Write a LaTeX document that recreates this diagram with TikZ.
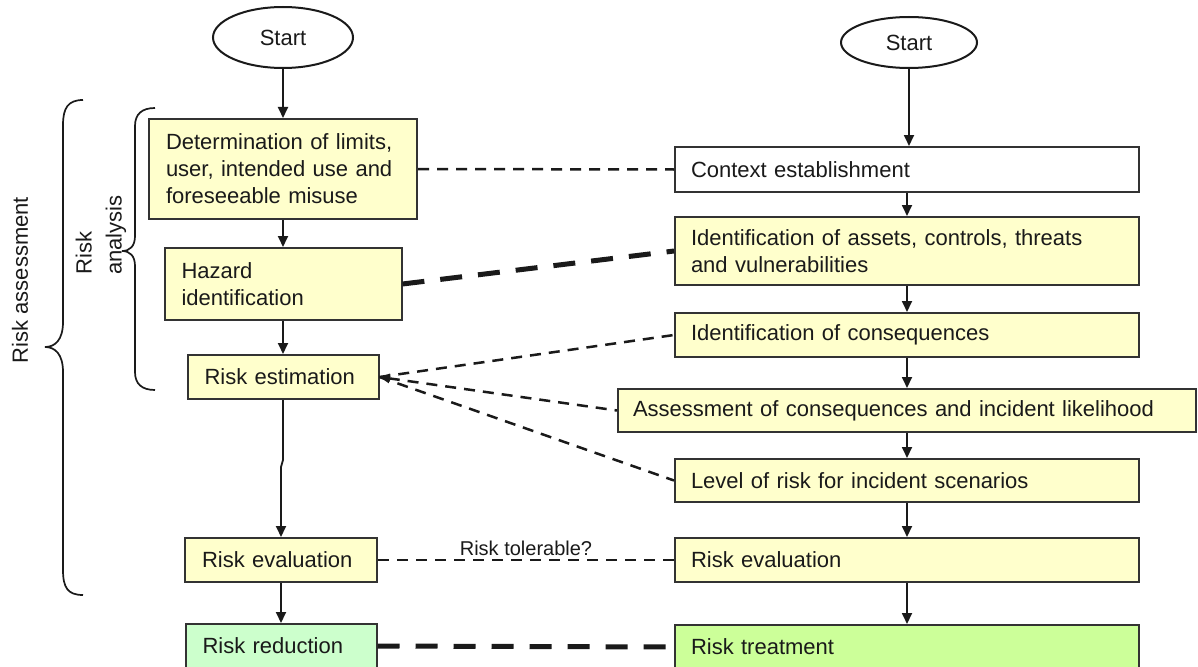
\documentclass[tikz,border=0pt]{standalone}
\usepackage{fontspec}
\setmainfont{Liberation Sans}
\usetikzlibrary{arrows.meta,shapes.geometric}
\definecolor{boxyellow}{HTML}{FFFFCC}
\definecolor{boxmint}{HTML}{CCFFCC}
\definecolor{boxlime}{HTML}{CCFF99}
\definecolor{edgegray}{HTML}{333333}
\definecolor{inkblack}{HTML}{1A1A1A}
\tikzset{
  flowbox/.style={draw=edgegray, line width=2pt, align=left, inner xsep=17pt, inner ysep=0pt,
    font=\fontsize{22}{27}\selectfont, text=inkblack, anchor=center},
  startoval/.style={draw=inkblack, ellipse, line width=2pt, inner sep=0pt,
    font=\fontsize{22}{27}\selectfont, text=inkblack},
  flowarrow/.style={draw=inkblack, line width=1.8pt, -{Triangle[length=11pt,width=10pt]}},
  thindash/.style={draw=inkblack, line width=2.5pt, dash pattern=on 11pt off 8pt},
  thickdash/.style={draw=inkblack, line width=5pt, dash pattern=on 22pt off 16pt},
  bracepath/.style={draw=inkblack, line width=1.7pt},
}
\begin{document}
\begin{tikzpicture}[x=1pt, y=-1pt]
\clip (0,0) rectangle (1198,666);
\fill[white] (0,0) rectangle (1198,666);

% ---- left column ----
\node[startoval, minimum width=140pt, minimum height=61pt] (startL) at (283,37.5) {Start};
\node[flowbox, fill=boxyellow, text width=234pt, minimum height=100pt] (det) at (283,169)
  {Determination of limits,\\user, intended use and\\foreseeable misuse};
\node[flowbox, fill=boxyellow, text width=203pt, minimum height=72pt] (haz) at (283,284)
  {Hazard\\identification};
\node[flowbox, fill=boxyellow, text width=157pt, minimum height=44pt] (est) at (283,377)
  {Risk estimation};
\node[flowbox, fill=boxyellow, text width=158pt, minimum height=44pt] (evL) at (281,560)
  {Risk evaluation};
\node[flowbox, fill=boxmint, text width=157pt, minimum height=44pt] (red) at (281,646)
  {Risk reduction};

% ---- right column ----
\node[startoval, minimum width=136pt, minimum height=51pt] (startR) at (909,42.5) {Start};
\node[flowbox, fill=white, inner xsep=16pt, text width=432pt, minimum height=45pt] (ctx) at (907,169.5)
  {Context establishment};
\node[flowbox, fill=boxyellow, inner xsep=16pt, text width=432pt, minimum height=68pt] (ida) at (907,251)
  {Identification of assets, controls, threats\\and vulnerabilities};
\node[flowbox, fill=boxyellow, inner xsep=16pt, text width=432pt, minimum height=44pt] (idc) at (907,335)
  {Identification of consequences};
\node[flowbox, fill=boxyellow, inner xsep=15pt, text width=548pt, minimum height=43pt] (ass) at (907,410.5)
  {Assessment of consequences and incident likelihood};
\node[flowbox, fill=boxyellow, inner xsep=16pt, text width=432pt, minimum height=43pt] (lvl) at (907,480.5)
  {Level of risk for incident scenarios};
\node[flowbox, fill=boxyellow, inner xsep=16pt, text width=432pt, minimum height=44pt] (evR) at (907,560)
  {Risk evaluation};
\node[flowbox, fill=boxlime, inner xsep=16pt, text width=432pt, minimum height=44pt] (trt) at (907,647)
  {Risk treatment};

% ---- vertical arrows ----
\foreach \a/\b in {startL/det, det/haz, haz/est, evL/red,
                   startR/ctx, ctx/ida, ida/idc, idc/ass, ass/lvl, lvl/evR, evR/trt}
  \draw[flowarrow] (\a.south) -- (\a.south |- \b.north);
\draw[flowarrow] (est.south) -- (est.south |- 0,460) -- (evL.north |- 0,467) -- (evL.north);

% ---- dashed correspondences ----
\draw[thindash] (det.east) -- (ctx.west);
\draw[thickdash] (haz.east) -- (ida.west);
\draw[thindash] (est.east) -- (idc.west);
\draw[thindash, {Triangle[length=10pt,width=9pt]}-] (est.east) -- (ass.west);
\draw[thindash] (est.east) -- (lvl.west);
\draw[thindash] (evL.east) -- node[midway, above, inner sep=3pt, font=\fontsize{20}{24}\selectfont, text=inkblack] (tol) {Risk tolerable?} (evR.west);
\draw[thickdash] (red.east) -- (trt.west);

% ---- braces ----
\draw[bracepath] (83,100) .. controls (68,100) and (63,108) .. (63,125) -- (63,322)
  .. controls (63,340) and (55,347) .. (45,347)
  .. controls (55,347) and (63,354) .. (63,372) -- (63,570)
  .. controls (63,588) and (68,595) .. (83,595);
\draw[bracepath] (155,108) .. controls (142,108) and (135,114) .. (135,126) -- (135,236)
  .. controls (135,246) and (130,251) .. (122,251)
  .. controls (130,251) and (135,256) .. (135,266) -- (135,372)
  .. controls (135,384) and (142,390) .. (155,390);

\node[rotate=90, font=\fontsize{22}{27}\selectfont, text=inkblack] (assesslbl) at (20,280) {Risk assessment};
\node[rotate=90, align=left, font=\fontsize{22}{30}\selectfont, text=inkblack] (analysislbl) at (101,235) {Risk\\analysis};
\end{tikzpicture}
\end{document}
